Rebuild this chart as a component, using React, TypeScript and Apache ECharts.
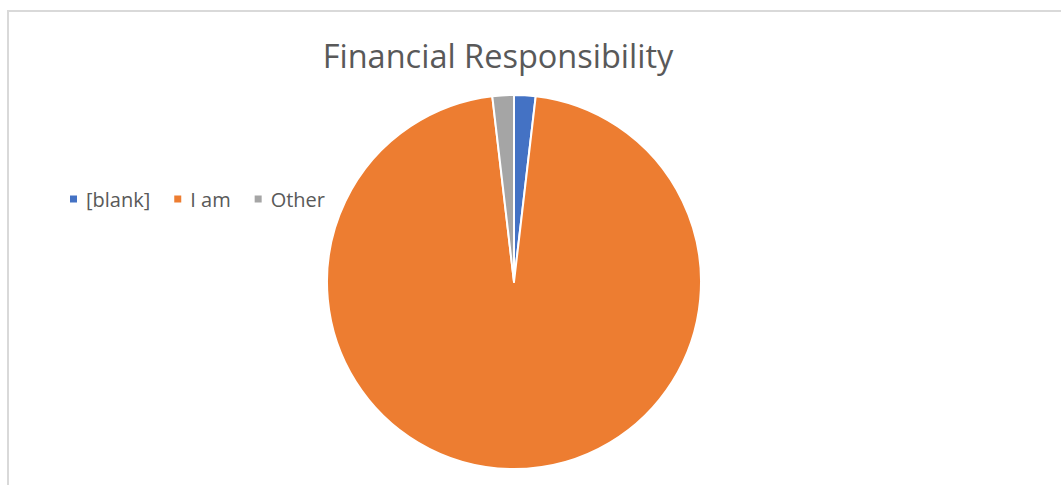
import React, { useEffect, useRef } from "react";
import * as echarts from "echarts";

const categories = ["[blank]", "I am", "Other"];
const values = [1, 52, 1];
const colors = ["#4472C4", "#ED7D31", "#A5A5A5"];
const titleText = "Financial Responsibility";

export default function App() {
  const ref = useRef<HTMLDivElement>(null);
  useEffect(() => {
    if (!ref.current) return;
    const chart = echarts.init(ref.current, null, { renderer: "svg" });
    chart.setOption({
      animation: false,
      backgroundColor: "#ffffff",
      title: {
        text: titleText,
        left: 493,
        top: 34,
        textAlign: "center",
        textStyle: {
          fontFamily: "Open Sans",
          fontSize: 32.5,
          fontWeight: "normal",
          color: "#595959",
        },
      },
      legend: {
        left: 63,
        top: 184,
        padding: 5,
        icon: "rect",
        itemWidth: 9,
        itemHeight: 9,
        itemGap: 22,
        textStyle: { fontFamily: "Open Sans", fontSize: 20, color: "#595959", padding: [0, 0, 0, 3] },
        data: categories,
      },
      graphic: [
        {
          type: "rect",
          shape: { x: 8, y: 11, width: 1100, height: 600 },
          style: { fill: "none", stroke: "#d9d9d9", lineWidth: 2 },
          silent: true,
        },
      ],
      series: [
        {
          type: "pie",
          center: [514, 282],
          radius: 187,
          startAngle: 90,
          clockwise: true,
          label: { show: false },
          labelLine: { show: false },
          emphasis: { disabled: true },
          itemStyle: { borderColor: "#ffffff", borderWidth: 2 },
          data: categories.map((c, i) => ({
            name: c,
            value: values[i],
            itemStyle: { color: colors[i] },
          })),
        },
      ],
    });
    return () => chart.dispose();
  }, []);
  return (
    <div
      ref={ref}
      style={{ position: "fixed", left: 0, top: 0, width: 1061, height: 485 }}
    />
  );
}
